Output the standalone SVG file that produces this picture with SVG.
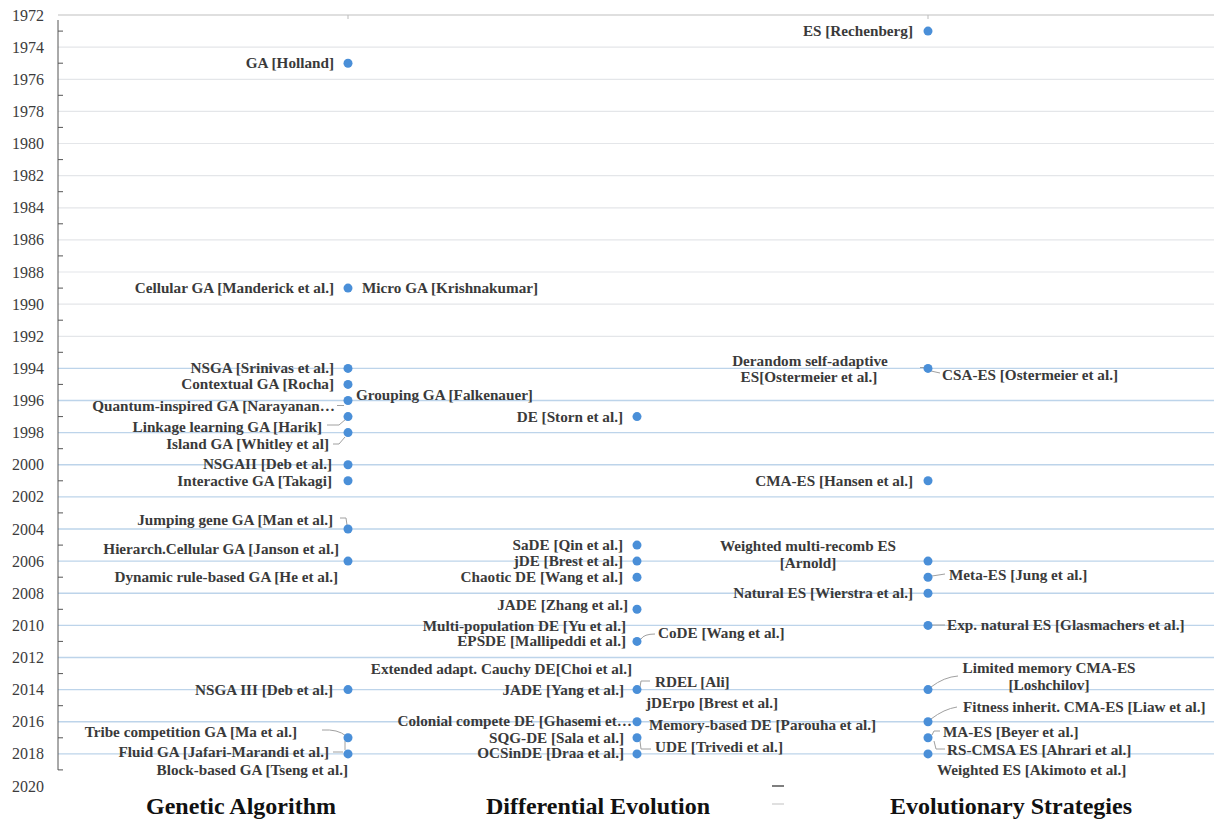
<svg xmlns="http://www.w3.org/2000/svg" width="1214" height="820" viewBox="0 0 1214 820">
<style>
.yr{font-family:"Liberation Serif","Times New Roman",serif;font-size:16px;fill:#3c3c3c;text-anchor:end}
.lb{font-family:"Liberation Serif","Times New Roman",serif;font-size:15.2px;font-weight:bold;fill:#3a3a3a}
.e{text-anchor:end}
.m{text-anchor:middle}
.tt{font-family:"Liberation Serif","Times New Roman",serif;font-size:24px;font-weight:bold;fill:#111;text-anchor:middle}
.gl{stroke:#e4e6e9;stroke-width:1.2}
.gb{stroke:#bdd4ea;stroke-width:1.4}
.dot{fill:#4a8fd8}
.ld{stroke:#a0a0a0;stroke-width:1;fill:none}
.tk{stroke:#555;stroke-width:1}
</style>
<rect width="1214" height="820" fill="#fff"/>
<g id="grid">
<line x1="58" y1="15" x2="1214" y2="15" stroke="#d4d4d4" stroke-width="1.4"/>
<line class="gl" x1="58" y1="47.1" x2="1214" y2="47.1"/>
<line class="gl" x1="58" y1="79.3" x2="1214" y2="79.3"/>
<line class="gl" x1="58" y1="111.4" x2="1214" y2="111.4"/>
<line class="gl" x1="58" y1="143.5" x2="1214" y2="143.5"/>
<line class="gl" x1="58" y1="175.6" x2="1214" y2="175.6"/>
<line class="gl" x1="58" y1="207.8" x2="1214" y2="207.8"/>
<line class="gl" x1="58" y1="239.9" x2="1214" y2="239.9"/>
<line class="gl" x1="58" y1="272" x2="1214" y2="272"/>
<line class="gl" x1="58" y1="304.1" x2="1214" y2="304.1"/>
<line class="gl" x1="58" y1="336.3" x2="1214" y2="336.3"/>
<line class="gb" x1="58" y1="368.4" x2="1214" y2="368.4"/>
<line class="gb" x1="58" y1="400.5" x2="1214" y2="400.5"/>
<line class="gb" x1="58" y1="432.6" x2="1214" y2="432.6"/>
<line class="gb" x1="58" y1="464.8" x2="1214" y2="464.8"/>
<line class="gb" x1="58" y1="496.9" x2="1214" y2="496.9"/>
<line class="gb" x1="58" y1="529" x2="1214" y2="529"/>
<line class="gb" x1="58" y1="561.1" x2="1214" y2="561.1"/>
<line class="gb" x1="58" y1="593.3" x2="1214" y2="593.3"/>
<line class="gb" x1="58" y1="625.4" x2="1214" y2="625.4"/>
<line class="gb" x1="58" y1="657.5" x2="1214" y2="657.5"/>
<line class="gb" x1="58" y1="689.6" x2="1214" y2="689.6"/>
<line class="gb" x1="58" y1="721.8" x2="1214" y2="721.8"/>
<line class="gb" x1="58" y1="753.9" x2="1214" y2="753.9"/>
<line x1="348" y1="15" x2="348" y2="19" stroke="#bbb"/>
<line x1="928" y1="15" x2="928" y2="19" stroke="#bbb"/>
</g>
<g id="axis">
<line class="tk" x1="58" y1="20" x2="58" y2="770"/>
<path class="tk" d="M58 31.1h5M58 63.2h5M58 95.3h5M58 127.4h5M58 159.6h5M58 191.7h5M58 223.8h5M58 255.9h5M58 288.1h5M58 320.2h5M58 352.3h5M58 384.4h5M58 416.6h5M58 448.7h5M58 480.8h5M58 512.9h5M58 545.1h5M58 577.2h5M58 609.3h5M58 641.4h5M58 673.6h5M58 705.7h5M58 737.8h5M58 769.9h5"/>
<text class="yr" x="44" y="20.5">1972</text>
<text class="yr" x="44" y="52.6">1974</text>
<text class="yr" x="44" y="84.8">1976</text>
<text class="yr" x="44" y="116.9">1978</text>
<text class="yr" x="44" y="149">1980</text>
<text class="yr" x="44" y="181.1">1982</text>
<text class="yr" x="44" y="213.3">1984</text>
<text class="yr" x="44" y="245.4">1986</text>
<text class="yr" x="44" y="277.5">1988</text>
<text class="yr" x="44" y="309.6">1990</text>
<text class="yr" x="44" y="341.8">1992</text>
<text class="yr" x="44" y="373.9">1994</text>
<text class="yr" x="44" y="406">1996</text>
<text class="yr" x="44" y="438.1">1998</text>
<text class="yr" x="44" y="470.3">2000</text>
<text class="yr" x="44" y="502.4">2002</text>
<text class="yr" x="44" y="534.5">2004</text>
<text class="yr" x="44" y="566.6">2006</text>
<text class="yr" x="44" y="598.8">2008</text>
<text class="yr" x="44" y="630.9">2010</text>
<text class="yr" x="44" y="663">2012</text>
<text class="yr" x="44" y="695.1">2014</text>
<text class="yr" x="44" y="727.3">2016</text>
<text class="yr" x="44" y="759.4">2018</text>
<text class="yr" x="44" y="791.5">2020</text>
</g>
<g id="connectors">
<path class="ld" d="M337 405.5H344"/>
<path class="ld" d="M327 425H339L346 419"/>
<path class="ld" d="M333 444H339L345 437"/>
<path class="ld" d="M340 518H346L347 525"/>
<path class="ld" d="M322 730Q338 729 346 736"/>
<path class="ld" d="M333 752H343M345 741V750"/>
<path class="ld" d="M641 639Q644 634 655 634"/>
<path class="ld" d="M640 687L641 681H650"/>
<path class="ld" d="M640 741L641 749H651"/>
<path class="ld" d="M920 367.5H925"/>
<path class="ld" d="M931 371L940 373"/>
<path class="ld" d="M932 576L945 574"/>
<path class="ld" d="M932 625H945"/>
<path class="ld" d="M931 687Q944 677 958 676"/>
<path class="ld" d="M931 719Q944 709 957 707"/>
<path class="ld" d="M932 735L934 731H940"/>
<path class="ld" d="M934 741L936 749H945"/>
</g>
<g id="ga">
<circle class="dot" cx="348" cy="63.2" r="4.5"/>
<circle class="dot" cx="348" cy="288.1" r="4.5"/>
<circle class="dot" cx="348" cy="368.4" r="4.5"/>
<circle class="dot" cx="348" cy="384.4" r="4.5"/>
<circle class="dot" cx="348" cy="400.5" r="4.5"/>
<circle class="dot" cx="348" cy="416.6" r="4.5"/>
<circle class="dot" cx="348" cy="432.6" r="4.5"/>
<circle class="dot" cx="348" cy="464.8" r="4.5"/>
<circle class="dot" cx="348" cy="480.8" r="4.5"/>
<circle class="dot" cx="348" cy="529" r="4.5"/>
<circle class="dot" cx="348" cy="561.1" r="4.5"/>
<circle class="dot" cx="348" cy="689.6" r="4.5"/>
<circle class="dot" cx="348" cy="737.8" r="4.5"/>
<circle class="dot" cx="348" cy="753.9" r="4.5"/>
<text class="lb e" x="334" y="68">GA [Holland]</text>
<text class="lb e" x="334" y="293">Cellular GA [Manderick et al.]</text>
<text class="lb" x="362" y="293">Micro GA [Krishnakumar]</text>
<text class="lb e" x="334" y="373">NSGA [Srinivas et al.]</text>
<text class="lb e" x="334" y="389">Contextual GA [Rocha]</text>
<text class="lb" x="356" y="400">Grouping GA [Falkenauer]</text>
<text class="lb e" x="335" y="411">Quantum-inspired  GA [Narayanan…</text>
<text class="lb e" x="322" y="432">Linkage learning GA [Harik]</text>
<text class="lb e" x="329" y="449">Island GA [Whitley et al]</text>
<text class="lb e" x="332" y="469">NSGAII [Deb et al.]</text>
<text class="lb e" x="332" y="486">Interactive GA [Takagi]</text>
<text class="lb e" x="333" y="525">Jumping gene GA [Man et al.]</text>
<text class="lb e" x="339" y="554">Hierarch.Cellular GA [Janson et al.]</text>
<text class="lb e" x="338" y="582">Dynamic rule-based GA [He et al.]</text>
<text class="lb e" x="333" y="695">NSGA III [Deb et al.]</text>
<text class="lb e" x="297" y="737">Tribe competition GA [Ma et al.]</text>
<text class="lb e" x="329" y="757">Fluid GA [Jafari-Marandi et al.]</text>
<text class="lb e" x="348" y="775">Block-based GA [Tseng et al.]</text>
</g>
<g id="de">
<circle class="dot" cx="637" cy="416.6" r="4.5"/>
<circle class="dot" cx="637" cy="545.1" r="4.5"/>
<circle class="dot" cx="637" cy="561.1" r="4.5"/>
<circle class="dot" cx="637" cy="577.2" r="4.5"/>
<circle class="dot" cx="637" cy="609.3" r="4.5"/>
<circle class="dot" cx="637" cy="641.4" r="4.5"/>
<circle class="dot" cx="637" cy="689.6" r="4.5"/>
<circle class="dot" cx="637" cy="721.8" r="4.5"/>
<circle class="dot" cx="637" cy="737.8" r="4.5"/>
<circle class="dot" cx="637" cy="753.9" r="4.5"/>
<text class="lb e" x="623" y="422">DE [Storn et al.]</text>
<text class="lb e" x="623" y="550">SaDE [Qin et al.]</text>
<text class="lb e" x="623" y="566">jDE [Brest et al.]</text>
<text class="lb e" x="623" y="582">Chaotic DE [Wang et al.]</text>
<text class="lb e" x="628" y="610">JADE [Zhang et al.]</text>
<text class="lb e" x="626" y="631">Multi-population DE [Yu et al.]</text>
<text class="lb e" x="626" y="646">EPSDE [Mallipeddi et al.]</text>
<text class="lb" x="658" y="638">CoDE [Wang et al.]</text>
<text class="lb e" x="632" y="674">Extended adapt. Cauchy DE[Choi et al.]</text>
<text class="lb e" x="624" y="695">JADE [Yang et al.]</text>
<text class="lb" x="655" y="687">RDEL [Ali]</text>
<text class="lb" x="646" y="708">jDErpo [Brest et al.]</text>
<text class="lb e" x="632" y="726">Colonial compete DE [Ghasemi et…</text>
<text class="lb" x="649" y="730">Memory-based DE [Parouha et al.]</text>
<text class="lb e" x="624" y="743">SQG-DE [Sala et al.]</text>
<text class="lb" x="655" y="752">UDE [Trivedi et al.]</text>
<text class="lb e" x="624" y="758">OCSinDE [Draa et al.]</text>
</g>
<g id="es">
<circle class="dot" cx="928" cy="31.1" r="4.5"/>
<circle class="dot" cx="928" cy="368.4" r="4.5"/>
<circle class="dot" cx="928" cy="480.8" r="4.5"/>
<circle class="dot" cx="928" cy="561.1" r="4.5"/>
<circle class="dot" cx="928" cy="577.2" r="4.5"/>
<circle class="dot" cx="928" cy="593.3" r="4.5"/>
<circle class="dot" cx="928" cy="625.4" r="4.5"/>
<circle class="dot" cx="928" cy="689.6" r="4.5"/>
<circle class="dot" cx="928" cy="721.8" r="4.5"/>
<circle class="dot" cx="928" cy="737.8" r="4.5"/>
<circle class="dot" cx="928" cy="753.9" r="4.5"/>
<text class="lb e" x="913" y="36">ES [Rechenberg]</text>
<text class="lb m" x="810" y="366">Derandom self-adaptive</text>
<text class="lb m" x="809" y="382">ES[Ostermeier et al.]</text>
<text class="lb" x="942" y="380">CSA-ES [Ostermeier et al.]</text>
<text class="lb e" x="913" y="486">CMA-ES [Hansen et al.]</text>
<text class="lb m" x="808" y="551">Weighted multi-recomb ES</text>
<text class="lb m" x="808" y="568">[Arnold]</text>
<text class="lb" x="949" y="580">Meta-ES [Jung et al.]</text>
<text class="lb e" x="913" y="598">Natural ES [Wierstra et al.]</text>
<text class="lb" x="947" y="630">Exp. natural ES [Glasmachers et al.]</text>
<text class="lb m" x="1049" y="673">Limited memory CMA-ES</text>
<text class="lb m" x="1049" y="690">[Loshchilov]</text>
<text class="lb" x="963" y="712">Fitness inherit. CMA-ES [Liaw et al.]</text>
<text class="lb" x="943" y="737">MA-ES [Beyer et al.]</text>
<text class="lb" x="947" y="755">RS-CMSA ES [Ahrari et al.]</text>
<text class="lb" x="937" y="775">Weighted ES [Akimoto et al.]</text>
</g>
<g id="titles">
<text class="tt" x="241" y="814">Genetic Algorithm</text>
<text class="tt" x="598" y="814">Differential Evolution</text>
<text class="tt" x="1011" y="814">Evolutionary Strategies</text>
<line x1="772" y1="786" x2="784" y2="786" stroke="#555" stroke-width="1.5"/>
<line x1="772" y1="804" x2="784" y2="804" stroke="#ccc" stroke-width="1.2"/>
</g>
</svg>
